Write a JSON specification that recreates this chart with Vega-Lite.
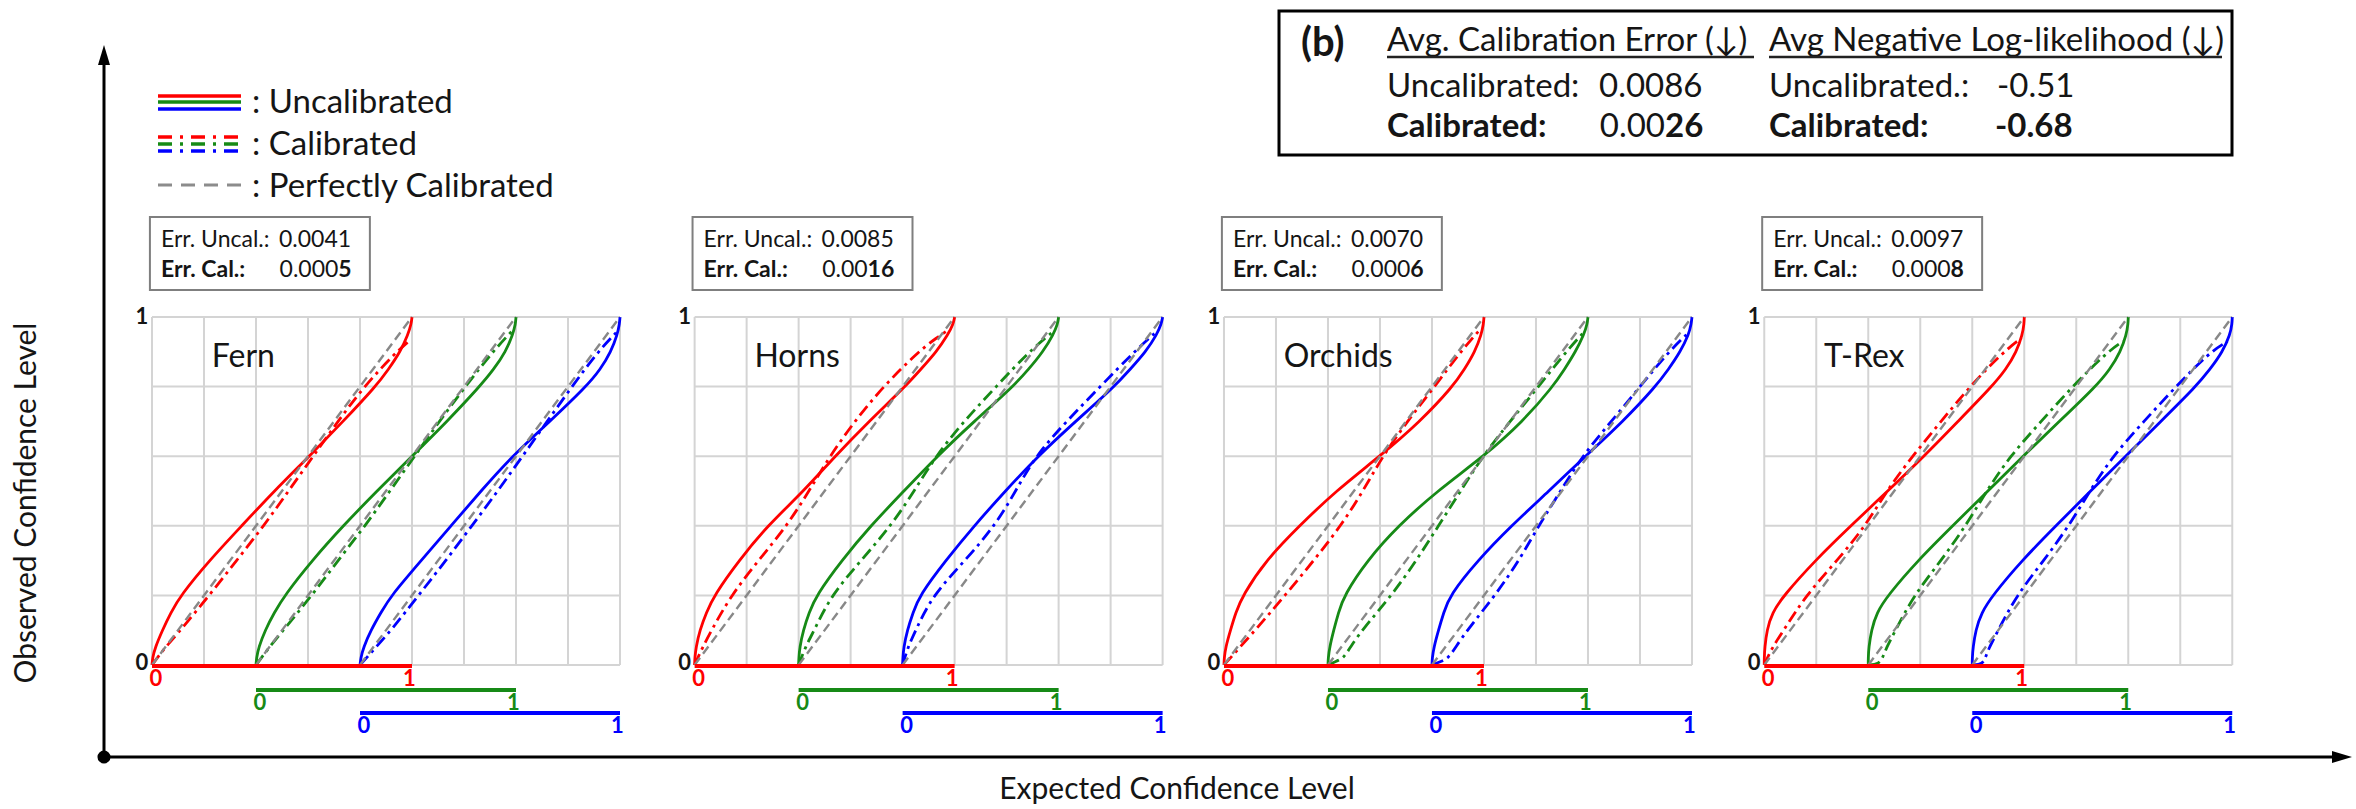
{
"$schema":"https://vega.github.io/schema/vega-lite/v6.json",
"width":2356,"height":809,"padding":0,
"autosize":{"type":"fit","contains":"padding"},
"background":"white",
"config":{"view":{"stroke":null},"text":{"font":"Lato, DejaVu Sans","color":"#151515"}},
"datasets":{
"curves":[
{"p":"Fern","c":"red","k":"U","o":[0,0.02,0.05,0.1,0.15,0.2,0.3,0.4,0.5,0.6,0.7,0.8,0.85,0.9,0.95,0.98,1],"e":[0,0.002,0.012,0.04,0.072,0.11,0.22,0.345,0.47,0.605,0.735,0.86,0.91,0.955,0.985,0.997,1]},
{"p":"Fern","c":"green","k":"U","o":[0,0.02,0.05,0.1,0.15,0.2,0.3,0.4,0.5,0.6,0.7,0.8,0.85,0.9,0.95,0.98,1],"e":[0,0.002,0.01,0.035,0.07,0.11,0.215,0.335,0.465,0.6,0.735,0.86,0.915,0.96,0.988,0.998,1]},
{"p":"Fern","c":"blue","k":"U","o":[0,0.02,0.05,0.1,0.15,0.2,0.3,0.4,0.5,0.6,0.7,0.8,0.85,0.9,0.95,0.98,1],"e":[0,0.003,0.013,0.042,0.08,0.12,0.235,0.35,0.465,0.585,0.73,0.87,0.925,0.965,0.99,0.998,1]},
{"p":"Horns","c":"red","k":"U","o":[0,0.02,0.05,0.1,0.15,0.2,0.3,0.4,0.5,0.6,0.7,0.8,0.85,0.9,0.95,0.98,1],"e":[0,0.001,0.005,0.02,0.045,0.075,0.17,0.28,0.42,0.54,0.67,0.81,0.87,0.93,0.975,0.995,1]},
{"p":"Horns","c":"green","k":"U","o":[0,0.02,0.05,0.1,0.15,0.2,0.3,0.4,0.5,0.6,0.7,0.8,0.85,0.9,0.95,0.98,1],"e":[0,0.001,0.004,0.018,0.04,0.068,0.165,0.277,0.405,0.533,0.675,0.825,0.885,0.94,0.98,0.996,1]},
{"p":"Horns","c":"blue","k":"U","o":[0,0.02,0.05,0.1,0.15,0.2,0.3,0.4,0.5,0.6,0.7,0.8,0.85,0.9,0.95,0.98,1],"e":[0,0.001,0.004,0.018,0.04,0.065,0.165,0.275,0.395,0.52,0.665,0.815,0.875,0.935,0.978,0.995,1]},
{"p":"Orchids","c":"red","k":"U","o":[0,0.02,0.05,0.1,0.15,0.2,0.3,0.4,0.5,0.6,0.7,0.8,0.85,0.9,0.95,0.98,1],"e":[0,0.001,0.006,0.025,0.045,0.072,0.16,0.29,0.43,0.6,0.755,0.88,0.925,0.965,0.99,0.998,1]},
{"p":"Orchids","c":"green","k":"U","o":[0,0.02,0.05,0.1,0.15,0.2,0.3,0.4,0.5,0.6,0.7,0.8,0.85,0.9,0.95,0.98,1],"e":[0,0.001,0.006,0.022,0.04,0.062,0.15,0.27,0.42,0.6,0.75,0.865,0.91,0.952,0.985,0.997,1]},
{"p":"Orchids","c":"blue","k":"U","o":[0,0.02,0.05,0.1,0.15,0.2,0.3,0.4,0.5,0.6,0.7,0.8,0.85,0.9,0.95,0.98,1],"e":[0,0.001,0.007,0.025,0.045,0.068,0.175,0.305,0.45,0.59,0.735,0.86,0.91,0.955,0.988,0.997,1]},
{"p":"T-Rex","c":"red","k":"U","o":[0,0.02,0.05,0.1,0.15,0.2,0.3,0.4,0.5,0.6,0.7,0.8,0.85,0.9,0.95,0.98,1],"e":[0,0,0.002,0.01,0.03,0.075,0.195,0.333,0.475,0.615,0.745,0.875,0.93,0.97,0.993,0.999,1]},
{"p":"T-Rex","c":"green","k":"U","o":[0,0.02,0.05,0.1,0.15,0.2,0.3,0.4,0.5,0.6,0.7,0.8,0.85,0.9,0.95,0.98,1],"e":[0,0,0.002,0.012,0.032,0.075,0.19,0.325,0.46,0.595,0.735,0.875,0.93,0.97,0.993,0.999,1]},
{"p":"T-Rex","c":"blue","k":"U","o":[0,0.02,0.05,0.1,0.15,0.2,0.3,0.4,0.5,0.6,0.7,0.8,0.85,0.9,0.95,0.98,1],"e":[0,0,0.003,0.013,0.035,0.078,0.19,0.322,0.455,0.59,0.725,0.86,0.915,0.963,0.992,0.999,1]},
{"p":"Fern","c":"red","k":"C","o":[0,0.05,0.1,0.2,0.3,0.4,0.5,0.6,0.7,0.8,0.9,0.935],"e":[0,0.05,0.11,0.22,0.325,0.43,0.525,0.62,0.715,0.815,0.94,0.995]},
{"p":"Fern","c":"green","k":"C","o":[0,0.05,0.1,0.2,0.3,0.4,0.5,0.6,0.7,0.8,0.9,0.96],"e":[0,0.05,0.105,0.215,0.315,0.42,0.515,0.61,0.705,0.805,0.91,0.985]},
{"p":"Fern","c":"blue","k":"C","o":[0,0.05,0.1,0.2,0.3,0.4,0.5,0.6,0.7,0.8,0.9,0.955],"e":[0,0.06,0.12,0.225,0.33,0.43,0.53,0.625,0.72,0.815,0.915,0.985]},
{"p":"Horns","c":"red","k":"C","o":[0,0.05,0.1,0.2,0.3,0.4,0.5,0.6,0.7,0.8,0.9,0.94,0.965],"e":[0,0.03,0.065,0.14,0.245,0.355,0.44,0.52,0.615,0.725,0.86,0.93,0.98]},
{"p":"Horns","c":"green","k":"C","o":[0,0.05,0.1,0.2,0.3,0.4,0.5,0.6,0.7,0.8,0.9,0.96],"e":[0,0.025,0.06,0.125,0.24,0.355,0.445,0.527,0.635,0.76,0.885,0.982]},
{"p":"Horns","c":"blue","k":"C","o":[0,0.05,0.1,0.2,0.3,0.4,0.5,0.6,0.7,0.8,0.9,0.96],"e":[0,0.02,0.05,0.115,0.24,0.355,0.435,0.51,0.63,0.76,0.89,0.98]},
{"p":"Orchids","c":"red","k":"C","o":[0,0.05,0.1,0.2,0.3,0.4,0.5,0.6,0.7,0.8,0.9,0.96],"e":[0,0.06,0.12,0.235,0.345,0.45,0.535,0.61,0.705,0.81,0.91,0.98]},
{"p":"Orchids","c":"green","k":"C","o":[0,0.01,0.02,0.05,0.1,0.2,0.3,0.4,0.5,0.6,0.7,0.8,0.9,0.957],"e":[0,0.03,0.06,0.085,0.13,0.245,0.34,0.425,0.51,0.595,0.7,0.81,0.915,0.985]},
{"p":"Orchids","c":"blue","k":"C","o":[0,0.01,0.02,0.05,0.1,0.2,0.3,0.4,0.5,0.6,0.7,0.8,0.9,0.955],"e":[0,0.035,0.063,0.09,0.135,0.243,0.335,0.41,0.495,0.577,0.69,0.8,0.91,0.987]},
{"p":"T-Rex","c":"red","k":"C","o":[0,0.05,0.1,0.2,0.3,0.4,0.5,0.6,0.7,0.8,0.9,0.94],"e":[0,0.03,0.075,0.16,0.28,0.39,0.47,0.57,0.68,0.79,0.92,0.99]},
{"p":"T-Rex","c":"green","k":"C","o":[0,0.003,0.02,0.05,0.1,0.2,0.3,0.4,0.5,0.6,0.7,0.8,0.9,0.93],"e":[0,0.04,0.055,0.07,0.105,0.175,0.28,0.375,0.455,0.545,0.665,0.785,0.92,0.98]},
{"p":"T-Rex","c":"blue","k":"C","o":[0,0.003,0.02,0.05,0.1,0.2,0.3,0.4,0.5,0.6,0.7,0.8,0.9,0.93],"e":[0,0.04,0.05,0.065,0.1,0.17,0.275,0.372,0.452,0.54,0.66,0.783,0.915,0.982]},
{"p":"Fern","c":"red","k":"P","o":[0,1],"e":[0,1]},
{"p":"Fern","c":"green","k":"P","o":[0,1],"e":[0,1]},
{"p":"Fern","c":"blue","k":"P","o":[0,1],"e":[0,1]},
{"p":"Horns","c":"red","k":"P","o":[0,1],"e":[0,1]},
{"p":"Horns","c":"green","k":"P","o":[0,1],"e":[0,1]},
{"p":"Horns","c":"blue","k":"P","o":[0,1],"e":[0,1]},
{"p":"Orchids","c":"red","k":"P","o":[0,1],"e":[0,1]},
{"p":"Orchids","c":"green","k":"P","o":[0,1],"e":[0,1]},
{"p":"Orchids","c":"blue","k":"P","o":[0,1],"e":[0,1]},
{"p":"T-Rex","c":"red","k":"P","o":[0,1],"e":[0,1]},
{"p":"T-Rex","c":"green","k":"P","o":[0,1],"e":[0,1]},
{"p":"T-Rex","c":"blue","k":"P","o":[0,1],"e":[0,1]}
],
"gridV":[
{"p":"Fern","k":[0,0.2,0.4,0.6,0.8,1,1.2,1.4,1.6,1.8]},
{"p":"Horns","k":[0,0.2,0.4,0.6,0.8,1,1.2,1.4,1.6,1.8]},
{"p":"Orchids","k":[0,0.2,0.4,0.6,0.8,1,1.2,1.4,1.6,1.8]},
{"p":"T-Rex","k":[0,0.2,0.4,0.6,0.8,1,1.2,1.4,1.6,1.8]}
],
"gridH":[
{"p":"Fern","j":[0,0.2,0.4,0.6,0.8,1]},
{"p":"Horns","j":[0,0.2,0.4,0.6,0.8,1]},
{"p":"Orchids","j":[0,0.2,0.4,0.6,0.8,1]},
{"p":"T-Rex","j":[0,0.2,0.4,0.6,0.8,1]}
],
"scales":[
{"p":"Fern","c":"red","v":[0,1]},{"p":"Fern","c":"green","v":[0,1]},{"p":"Fern","c":"blue","v":[0,1]},
{"p":"Horns","c":"red","v":[0,1]},{"p":"Horns","c":"green","v":[0,1]},{"p":"Horns","c":"blue","v":[0,1]},
{"p":"Orchids","c":"red","v":[0,1]},{"p":"Orchids","c":"green","v":[0,1]},{"p":"Orchids","c":"blue","v":[0,1]},
{"p":"T-Rex","c":"red","v":[0,1]},{"p":"T-Rex","c":"green","v":[0,1]},{"p":"T-Rex","c":"blue","v":[0,1]}
],
"panels":[
{"p":"Fern","unc":"0.0041","calA":"0.000","calB":"5"},
{"p":"Horns","unc":"0.0085","calA":"0.00","calB":"16"},
{"p":"Orchids","unc":"0.0070","calA":"0.000","calB":"6"},
{"p":"T-Rex","unc":"0.0097","calA":"0.000","calB":"8"}
]
},
"layer":[
{"data":{"name":"gridV"},"transform":[{"flatten":["k"]},{"calculate":"(datum.p=='Horns'?2.087:datum.p=='Orchids'?4.123:datum.p=='T-Rex'?6.201:0)+datum.k","as":"X"}],
 "mark":{"type":"rule","color":"#d4d4d4","strokeWidth":2},
 "encoding":{"x":{"field":"X","type":"quantitative","scale":{"domain":[-0.58462,8.47692],"nice":false,"zero":false},"axis":null},
  "y":{"datum":0,"type":"quantitative","scale":{"domain":[-0.41379,1.91092],"nice":false,"zero":false},"axis":null},"y2":{"datum":1}}},
{"data":{"name":"gridH"},"transform":[{"flatten":["j"]},{"calculate":"(datum.p=='Horns'?2.087:datum.p=='Orchids'?4.123:datum.p=='T-Rex'?6.201:0)","as":"X"},{"calculate":"datum.X+1.8","as":"X2"}],
 "mark":{"type":"rule","color":"#d4d4d4","strokeWidth":2},
 "encoding":{"x":{"field":"X","type":"quantitative","scale":{"domain":[-0.58462,8.47692],"nice":false,"zero":false},"axis":null},"x2":{"field":"X2"},
  "y":{"field":"j","type":"quantitative","scale":{"domain":[-0.41379,1.91092],"nice":false,"zero":false},"axis":null}}},
{"data":{"name":"curves"},"transform":[{"filter":"datum.k=='U'"},{"flatten":["o","e"]},{"calculate":"(datum.p=='Horns'?2.087:datum.p=='Orchids'?4.123:datum.p=='T-Rex'?6.201:0)+(datum.c=='green'?0.4:datum.c=='blue'?0.8:0)+datum.e","as":"X"}],
 "mark":{"type":"line","strokeWidth":2.8,"interpolate":"basis"},
 "encoding":{"x":{"field":"X","type":"quantitative","scale":{"domain":[-0.58462,8.47692],"nice":false,"zero":false},"axis":null},
  "y":{"field":"o","type":"quantitative","scale":{"domain":[-0.41379,1.91092],"nice":false,"zero":false},"axis":null},
  "color":{"field":"c","type":"nominal","scale":{"domain":["red","green","blue"],"range":["#ff0000","#168a16","#0000ff"]},"legend":null},
  "detail":{"field":"p"},"order":{"field":"o","type":"quantitative"}}},
{"data":{"name":"curves"},"transform":[{"filter":"datum.k=='C'"},{"flatten":["o","e"]},{"calculate":"(datum.p=='Horns'?2.087:datum.p=='Orchids'?4.123:datum.p=='T-Rex'?6.201:0)+(datum.c=='green'?0.4:datum.c=='blue'?0.8:0)+datum.e","as":"X"}],
 "mark":{"type":"line","strokeWidth":2.8,"interpolate":"basis","strokeDash":[12,5,3,5]},
 "encoding":{"x":{"field":"X","type":"quantitative","scale":{"domain":[-0.58462,8.47692],"nice":false,"zero":false},"axis":null},
  "y":{"field":"o","type":"quantitative","scale":{"domain":[-0.41379,1.91092],"nice":false,"zero":false},"axis":null},
  "color":{"field":"c","type":"nominal","scale":{"domain":["red","green","blue"],"range":["#ff0000","#168a16","#0000ff"]},"legend":null},
  "detail":{"field":"p"},"order":{"field":"o","type":"quantitative"}}},
{"data":{"name":"curves"},"transform":[{"filter":"datum.k=='P'"},{"flatten":["o","e"]},{"calculate":"(datum.p=='Horns'?2.087:datum.p=='Orchids'?4.123:datum.p=='T-Rex'?6.201:0)+(datum.c=='green'?0.4:datum.c=='blue'?0.8:0)+datum.e","as":"X"}],
 "mark":{"type":"line","strokeWidth":2.4,"color":"#888888","strokeDash":[9,5]},
 "encoding":{"x":{"field":"X","type":"quantitative","scale":{"domain":[-0.58462,8.47692],"nice":false,"zero":false},"axis":null},
  "y":{"field":"o","type":"quantitative","scale":{"domain":[-0.41379,1.91092],"nice":false,"zero":false},"axis":null},
  "detail":[{"field":"p"},{"field":"c"}],"order":{"field":"o","type":"quantitative"}}},
{"data":{"name":"scales"},"transform":[{"calculate":"(datum.p=='Horns'?2.087:datum.p=='Orchids'?4.123:datum.p=='T-Rex'?6.201:0)+(datum.c=='green'?0.4:datum.c=='blue'?0.8:0)","as":"X"},{"calculate":"datum.X+1","as":"X2"},{"calculate":"datum.c=='green'?-0.0718:datum.c=='blue'?-0.1379:-0.003","as":"L"}],
 "mark":{"type":"rule","strokeWidth":4},
 "encoding":{"x":{"field":"X","type":"quantitative","scale":{"domain":[-0.58462,8.47692],"nice":false,"zero":false},"axis":null},"x2":{"field":"X2"},
  "y":{"field":"L","type":"quantitative","scale":{"domain":[-0.41379,1.91092],"nice":false,"zero":false},"axis":null},
  "color":{"field":"c","type":"nominal","scale":{"domain":["red","green","blue"],"range":["#ff0000","#168a16","#0000ff"]},"legend":null}}},
{"data":{"name":"scales"},"transform":[{"flatten":["v"]},{"calculate":"(datum.p=='Horns'?2.087:datum.p=='Orchids'?4.123:datum.p=='T-Rex'?6.201:0)+(datum.c=='green'?0.4:datum.c=='blue'?0.8:0)+datum.v+(datum.v==0?0.015:-0.01)","as":"X"},{"calculate":"(datum.c=='green'?-0.0718:datum.c=='blue'?-0.1379:-0.003)-0.036","as":"L"},{"calculate":"''+datum.v","as":"t"}],
 "mark":{"type":"text","fontSize":22,"fontWeight":"bold","baseline":"middle","align":"center"},
 "encoding":{"x":{"field":"X","type":"quantitative","scale":{"domain":[-0.58462,8.47692],"nice":false,"zero":false},"axis":null},
  "y":{"field":"L","type":"quantitative","scale":{"domain":[-0.41379,1.91092],"nice":false,"zero":false},"axis":null},
  "text":{"field":"t"},
  "color":{"field":"c","type":"nominal","scale":{"domain":["red","green","blue"],"range":["#ff0000","#168a16","#0000ff"]},"legend":null}}},
{"data":{"name":"panels"},"transform":[{"calculate":"(datum.p=='Horns'?2.087:datum.p=='Orchids'?4.123:datum.p=='T-Rex'?6.201:0)","as":"off"},{"calculate":"datum.off-0.014","as":"X"}],
 "mark":{"type":"text","fontSize":22,"fontWeight":"bold","baseline":"middle","align":"right","text":"1"},
 "encoding":{"x":{"field":"X","type":"quantitative","scale":{"domain":[-0.58462,8.47692],"nice":false,"zero":false},"axis":null},
  "y":{"datum":1,"type":"quantitative","scale":{"domain":[-0.41379,1.91092],"nice":false,"zero":false},"axis":null}}},
{"data":{"name":"panels"},"transform":[{"calculate":"(datum.p=='Horns'?2.087:datum.p=='Orchids'?4.123:datum.p=='T-Rex'?6.201:0)","as":"off"},{"calculate":"datum.off-0.014","as":"X"}],
 "mark":{"type":"text","fontSize":22,"fontWeight":"bold","baseline":"middle","align":"right","text":"0"},
 "encoding":{"x":{"field":"X","type":"quantitative","scale":{"domain":[-0.58462,8.47692],"nice":false,"zero":false},"axis":null},
  "y":{"datum":0.005,"type":"quantitative","scale":{"domain":[-0.41379,1.91092],"nice":false,"zero":false},"axis":null}}},
{"data":{"name":"panels"},"transform":[{"calculate":"(datum.p=='Horns'?2.087:datum.p=='Orchids'?4.123:datum.p=='T-Rex'?6.201:0)","as":"off"},{"calculate":"datum.off+0.23","as":"X"}],
 "mark":{"type":"text","fontSize":32,"baseline":"alphabetic","align":"left"},
 "encoding":{"x":{"field":"X","type":"quantitative","scale":{"domain":[-0.58462,8.47692],"nice":false,"zero":false},"axis":null},
  "y":{"datum":0.85632,"type":"quantitative","scale":{"domain":[-0.41379,1.91092],"nice":false,"zero":false},"axis":null},
  "text":{"field":"p"}}},
{"data":{"name":"panels"},"transform":[{"calculate":"(datum.p=='Horns'?2.087:datum.p=='Orchids'?4.123:datum.p=='T-Rex'?6.201:0)","as":"off"},{"calculate":"datum.off-0.008","as":"X"},{"calculate":"datum.off+0.838","as":"X2"}],
 "mark":{"type":"rect","fillOpacity":0,"stroke":"#7f7f7f","strokeWidth":2},
 "encoding":{"x":{"field":"X","type":"quantitative","scale":{"domain":[-0.58462,8.47692],"nice":false,"zero":false},"axis":null},"x2":{"field":"X2"},
  "y":{"datum":1.28736,"type":"quantitative","scale":{"domain":[-0.41379,1.91092],"nice":false,"zero":false},"axis":null},"y2":{"datum":1.07759}}},
{"data":{"name":"panels"},"transform":[{"calculate":"(datum.p=='Horns'?2.087:datum.p=='Orchids'?4.123:datum.p=='T-Rex'?6.201:0)","as":"off"},{"calculate":"datum.off+0.0346","as":"X"}],
 "mark":{"type":"text","fontSize":23,"baseline":"alphabetic","align":"left","text":"Err. Uncal.:"},
 "encoding":{"x":{"field":"X","type":"quantitative","scale":{"domain":[-0.58462,8.47692],"nice":false,"zero":false},"axis":null},
  "y":{"datum":1.20115,"type":"quantitative","scale":{"domain":[-0.41379,1.91092],"nice":false,"zero":false},"axis":null}}},
{"data":{"name":"panels"},"transform":[{"calculate":"(datum.p=='Horns'?2.087:datum.p=='Orchids'?4.123:datum.p=='T-Rex'?6.201:0)","as":"off"},{"calculate":"datum.off+0.48846","as":"X"}],
 "mark":{"type":"text","fontSize":23,"baseline":"alphabetic","align":"left"},
 "encoding":{"x":{"field":"X","type":"quantitative","scale":{"domain":[-0.58462,8.47692],"nice":false,"zero":false},"axis":null},
  "y":{"datum":1.20115,"type":"quantitative","scale":{"domain":[-0.41379,1.91092],"nice":false,"zero":false},"axis":null},
  "text":{"field":"unc"}}},
{"data":{"name":"panels"},"transform":[{"calculate":"(datum.p=='Horns'?2.087:datum.p=='Orchids'?4.123:datum.p=='T-Rex'?6.201:0)","as":"off"},{"calculate":"datum.off+0.0346","as":"X"}],
 "mark":{"type":"text","fontSize":23,"fontWeight":"bold","baseline":"alphabetic","align":"left","text":"Err. Cal.:"},
 "encoding":{"x":{"field":"X","type":"quantitative","scale":{"domain":[-0.58462,8.47692],"nice":false,"zero":false},"axis":null},
  "y":{"datum":1.11494,"type":"quantitative","scale":{"domain":[-0.41379,1.91092],"nice":false,"zero":false},"axis":null}}},
{"data":{"name":"panels"},"transform":[{"calculate":"(datum.p=='Horns'?2.087:datum.p=='Orchids'?4.123:datum.p=='T-Rex'?6.201:0)","as":"off"},{"calculate":"datum.off+(127+(length(datum.calA)-1)*13.34+5.98)/260","as":"X"}],
 "mark":{"type":"text","fontSize":23,"baseline":"alphabetic","align":"right"},
 "encoding":{"x":{"field":"X","type":"quantitative","scale":{"domain":[-0.58462,8.47692],"nice":false,"zero":false},"axis":null},
  "y":{"datum":1.11494,"type":"quantitative","scale":{"domain":[-0.41379,1.91092],"nice":false,"zero":false},"axis":null},
  "text":{"field":"calA"}}},
{"data":{"name":"panels"},"transform":[{"calculate":"(datum.p=='Horns'?2.087:datum.p=='Orchids'?4.123:datum.p=='T-Rex'?6.201:0)","as":"off"},{"calculate":"datum.off+(127+(length(datum.calA)-1)*13.34+5.98)/260","as":"X"}],
 "mark":{"type":"text","fontSize":23,"fontWeight":"bold","baseline":"alphabetic","align":"left"},
 "encoding":{"x":{"field":"X","type":"quantitative","scale":{"domain":[-0.58462,8.47692],"nice":false,"zero":false},"axis":null},
  "y":{"datum":1.11494,"type":"quantitative","scale":{"domain":[-0.41379,1.91092],"nice":false,"zero":false},"axis":null},
  "text":{"field":"calB"}}},
{"data":{"values":[{}]},"mark":{"type":"rule","strokeWidth":3,"color":"#000000"},
 "encoding":{"x":{"datum":-0.18462,"type":"quantitative","scale":{"domain":[-0.58462,8.47692],"nice":false,"zero":false},"axis":null},
  "y":{"datum":-0.26437,"type":"quantitative","scale":{"domain":[-0.41379,1.91092],"nice":false,"zero":false},"axis":null},"y2":{"datum":1.72414}}},
{"data":{"values":[{}]},"mark":{"type":"rule","strokeWidth":3,"color":"#000000"},
 "encoding":{"x":{"datum":-0.18462,"type":"quantitative","scale":{"domain":[-0.58462,8.47692],"nice":false,"zero":false},"axis":null},"x2":{"datum":8.39231},
  "y":{"datum":-0.26437,"type":"quantitative","scale":{"domain":[-0.41379,1.91092],"nice":false,"zero":false},"axis":null}}},
{"data":{"values":[{}]},"mark":{"type":"point","filled":true,"color":"#000000","opacity":1,"size":400,"strokeWidth":0,"shape":"M0,-1L0.6,1L-0.6,1Z"},
 "encoding":{"x":{"datum":-0.18462,"type":"quantitative","scale":{"domain":[-0.58462,8.47692],"nice":false,"zero":false},"axis":null},
  "y":{"datum":1.75287,"type":"quantitative","scale":{"domain":[-0.41379,1.91092],"nice":false,"zero":false},"axis":null}}},
{"data":{"values":[{}]},"mark":{"type":"point","filled":true,"color":"#000000","opacity":1,"size":400,"strokeWidth":0,"shape":"M1,0L-1,0.6L-1,-0.6Z"},
 "encoding":{"x":{"datum":8.42308,"type":"quantitative","scale":{"domain":[-0.58462,8.47692],"nice":false,"zero":false},"axis":null},
  "y":{"datum":-0.26437,"type":"quantitative","scale":{"domain":[-0.41379,1.91092],"nice":false,"zero":false},"axis":null}}},
{"data":{"values":[{}]},"mark":{"type":"point","filled":true,"color":"#000000","opacity":1,"size":170,"shape":"circle"},
 "encoding":{"x":{"datum":-0.18462,"type":"quantitative","scale":{"domain":[-0.58462,8.47692],"nice":false,"zero":false},"axis":null},
  "y":{"datum":-0.26437,"type":"quantitative","scale":{"domain":[-0.41379,1.91092],"nice":false,"zero":false},"axis":null}}},
{"data":{"values":[{}]},"mark":{"type":"text","fontSize":30,"angle":270,"align":"center","baseline":"middle","text":"Observed Confidence Level"},
 "encoding":{"x":{"datum":-0.48077,"type":"quantitative","scale":{"domain":[-0.58462,8.47692],"nice":false,"zero":false},"axis":null},
  "y":{"datum":0.46552,"type":"quantitative","scale":{"domain":[-0.41379,1.91092],"nice":false,"zero":false},"axis":null}}},
{"data":{"values":[{}]},"mark":{"type":"text","fontSize":30,"align":"center","baseline":"middle","text":"Expected Confidence Level"},
 "encoding":{"x":{"datum":3.94231,"type":"quantitative","scale":{"domain":[-0.58462,8.47692],"nice":false,"zero":false},"axis":null},
  "y":{"datum":-0.3592,"type":"quantitative","scale":{"domain":[-0.41379,1.91092],"nice":false,"zero":false},"axis":null}}},
{"data":{"values":[{"c":"red","lv":1.63506},{"c":"green","lv":1.61782},{"c":"blue","lv":1.5977}]},"mark":{"type":"rule","strokeWidth":3.5},
 "encoding":{"x":{"datum":0.02308,"type":"quantitative","scale":{"domain":[-0.58462,8.47692],"nice":false,"zero":false},"axis":null},"x2":{"datum":0.34231},
  "y":{"field":"lv","type":"quantitative","scale":{"domain":[-0.41379,1.91092],"nice":false,"zero":false},"axis":null},
  "color":{"field":"c","type":"nominal","scale":{"domain":["red","green","blue"],"range":["#ff0000","#168a16","#0000ff"]},"legend":null}}},
{"data":{"values":[{"c":"red","lv":1.51724},{"c":"green","lv":1.49713},{"c":"blue","lv":1.47701}]},"mark":{"type":"rule","strokeWidth":3.5,"strokeDash":[14,8,3,8]},
 "encoding":{"x":{"datum":0.02308,"type":"quantitative","scale":{"domain":[-0.58462,8.47692],"nice":false,"zero":false},"axis":null},"x2":{"datum":0.34231},
  "y":{"field":"lv","type":"quantitative","scale":{"domain":[-0.41379,1.91092],"nice":false,"zero":false},"axis":null},
  "color":{"field":"c","type":"nominal","scale":{"domain":["red","green","blue"],"range":["#ff0000","#168a16","#0000ff"]},"legend":null}}},
{"data":{"values":[{}]},"mark":{"type":"rule","strokeWidth":3,"color":"#8c8c8c","strokeDash":[14,9]},
 "encoding":{"x":{"datum":0.02308,"type":"quantitative","scale":{"domain":[-0.58462,8.47692],"nice":false,"zero":false},"axis":null},"x2":{"datum":0.34231},
  "y":{"datum":1.37931,"type":"quantitative","scale":{"domain":[-0.41379,1.91092],"nice":false,"zero":false},"axis":null}}},
{"data":{"values":[{}]},"mark":{"type":"text","fontSize":33,"align":"left","baseline":"alphabetic","text":": Uncalibrated"},
 "encoding":{"x":{"datum":0.38462,"type":"quantitative","scale":{"domain":[-0.58462,8.47692],"nice":false,"zero":false},"axis":null},
  "y":{"datum":1.58621,"type":"quantitative","scale":{"domain":[-0.41379,1.91092],"nice":false,"zero":false},"axis":null}}},
{"data":{"values":[{}]},"mark":{"type":"text","fontSize":33,"align":"left","baseline":"alphabetic","text":": Calibrated"},
 "encoding":{"x":{"datum":0.38462,"type":"quantitative","scale":{"domain":[-0.58462,8.47692],"nice":false,"zero":false},"axis":null},
  "y":{"datum":1.46552,"type":"quantitative","scale":{"domain":[-0.41379,1.91092],"nice":false,"zero":false},"axis":null}}},
{"data":{"values":[{}]},"mark":{"type":"text","fontSize":33,"align":"left","baseline":"alphabetic","text":": Perfectly Calibrated"},
 "encoding":{"x":{"datum":0.38462,"type":"quantitative","scale":{"domain":[-0.58462,8.47692],"nice":false,"zero":false},"axis":null},
  "y":{"datum":1.34483,"type":"quantitative","scale":{"domain":[-0.41379,1.91092],"nice":false,"zero":false},"axis":null}}},
{"data":{"values":[{}]},"mark":{"type":"rect","fillOpacity":0,"stroke":"#000000","strokeWidth":3},
 "encoding":{"x":{"datum":4.33462,"type":"quantitative","scale":{"domain":[-0.58462,8.47692],"nice":false,"zero":false},"axis":null},"x2":{"datum":8.0},
  "y":{"datum":1.87931,"type":"quantitative","scale":{"domain":[-0.41379,1.91092],"nice":false,"zero":false},"axis":null},"y2":{"datum":1.46552}}},
{"data":{"values":[{}]},"mark":{"type":"text","fontSize":40,"fontWeight":"bold","align":"left","baseline":"alphabetic","text":"(b)"},
 "encoding":{"x":{"datum":4.41923,"type":"quantitative","scale":{"domain":[-0.58462,8.47692],"nice":false,"zero":false},"axis":null},
  "y":{"datum":1.75,"type":"quantitative","scale":{"domain":[-0.41379,1.91092],"nice":false,"zero":false},"axis":null}}},
{"data":{"values":[{}]},"mark":{"type":"text","fontSize":33,"align":"left","baseline":"alphabetic","text":"Avg. Calibration Error (↓)"},
 "encoding":{"x":{"datum":4.75,"type":"quantitative","scale":{"domain":[-0.58462,8.47692],"nice":false,"zero":false},"axis":null},
  "y":{"datum":1.76437,"type":"quantitative","scale":{"domain":[-0.41379,1.91092],"nice":false,"zero":false},"axis":null}}},
{"data":{"values":[{}]},"mark":{"type":"rule","strokeWidth":2.5,"color":"#222222"},
 "encoding":{"x":{"datum":4.75,"type":"quantitative","scale":{"domain":[-0.58462,8.47692],"nice":false,"zero":false},"axis":null},"x2":{"datum":6.16154},
  "y":{"datum":1.74713,"type":"quantitative","scale":{"domain":[-0.41379,1.91092],"nice":false,"zero":false},"axis":null}}},
{"data":{"values":[{}]},"mark":{"type":"text","fontSize":33,"align":"left","baseline":"alphabetic","text":"Avg Negative Log-likelihood (↓)"},
 "encoding":{"x":{"datum":6.21923,"type":"quantitative","scale":{"domain":[-0.58462,8.47692],"nice":false,"zero":false},"axis":null},
  "y":{"datum":1.76437,"type":"quantitative","scale":{"domain":[-0.41379,1.91092],"nice":false,"zero":false},"axis":null}}},
{"data":{"values":[{}]},"mark":{"type":"rule","strokeWidth":2.5,"color":"#222222"},
 "encoding":{"x":{"datum":6.21923,"type":"quantitative","scale":{"domain":[-0.58462,8.47692],"nice":false,"zero":false},"axis":null},"x2":{"datum":7.96154},
  "y":{"datum":1.74713,"type":"quantitative","scale":{"domain":[-0.41379,1.91092],"nice":false,"zero":false},"axis":null}}},
{"data":{"values":[{}]},"mark":{"type":"text","fontSize":33,"align":"left","baseline":"alphabetic","text":"Uncalibrated:"},
 "encoding":{"x":{"datum":4.75,"type":"quantitative","scale":{"domain":[-0.58462,8.47692],"nice":false,"zero":false},"axis":null},
  "y":{"datum":1.63218,"type":"quantitative","scale":{"domain":[-0.41379,1.91092],"nice":false,"zero":false},"axis":null}}},
{"data":{"values":[{}]},"mark":{"type":"text","fontSize":33,"align":"left","baseline":"alphabetic","text":"0.0086"},
 "encoding":{"x":{"datum":5.56538,"type":"quantitative","scale":{"domain":[-0.58462,8.47692],"nice":false,"zero":false},"axis":null},
  "y":{"datum":1.63218,"type":"quantitative","scale":{"domain":[-0.41379,1.91092],"nice":false,"zero":false},"axis":null}}},
{"data":{"values":[{}]},"mark":{"type":"text","fontSize":33,"fontWeight":"bold","align":"left","baseline":"alphabetic","text":"Calibrated:"},
 "encoding":{"x":{"datum":4.75,"type":"quantitative","scale":{"domain":[-0.58462,8.47692],"nice":false,"zero":false},"axis":null},
  "y":{"datum":1.51724,"type":"quantitative","scale":{"domain":[-0.41379,1.91092],"nice":false,"zero":false},"axis":null}}},
{"data":{"values":[{}]},"mark":{"type":"text","fontSize":33,"align":"right","baseline":"alphabetic","text":"0.00"},
 "encoding":{"x":{"datum":5.81923,"type":"quantitative","scale":{"domain":[-0.58462,8.47692],"nice":false,"zero":false},"axis":null},
  "y":{"datum":1.51724,"type":"quantitative","scale":{"domain":[-0.41379,1.91092],"nice":false,"zero":false},"axis":null}}},
{"data":{"values":[{}]},"mark":{"type":"text","fontSize":33,"fontWeight":"bold","align":"left","baseline":"alphabetic","text":"26"},
 "encoding":{"x":{"datum":5.81923,"type":"quantitative","scale":{"domain":[-0.58462,8.47692],"nice":false,"zero":false},"axis":null},
  "y":{"datum":1.51724,"type":"quantitative","scale":{"domain":[-0.41379,1.91092],"nice":false,"zero":false},"axis":null}}},
{"data":{"values":[{}]},"mark":{"type":"text","fontSize":33,"align":"left","baseline":"alphabetic","text":"Uncalibrated.:"},
 "encoding":{"x":{"datum":6.21923,"type":"quantitative","scale":{"domain":[-0.58462,8.47692],"nice":false,"zero":false},"axis":null},
  "y":{"datum":1.63218,"type":"quantitative","scale":{"domain":[-0.41379,1.91092],"nice":false,"zero":false},"axis":null}}},
{"data":{"values":[{}]},"mark":{"type":"text","fontSize":33,"align":"left","baseline":"alphabetic","text":"-0.51"},
 "encoding":{"x":{"datum":7.09615,"type":"quantitative","scale":{"domain":[-0.58462,8.47692],"nice":false,"zero":false},"axis":null},
  "y":{"datum":1.63218,"type":"quantitative","scale":{"domain":[-0.41379,1.91092],"nice":false,"zero":false},"axis":null}}},
{"data":{"values":[{}]},"mark":{"type":"text","fontSize":33,"fontWeight":"bold","align":"left","baseline":"alphabetic","text":"Calibrated:"},
 "encoding":{"x":{"datum":6.21923,"type":"quantitative","scale":{"domain":[-0.58462,8.47692],"nice":false,"zero":false},"axis":null},
  "y":{"datum":1.51724,"type":"quantitative","scale":{"domain":[-0.41379,1.91092],"nice":false,"zero":false},"axis":null}}},
{"data":{"values":[{}]},"mark":{"type":"text","fontSize":33,"fontWeight":"bold","align":"left","baseline":"alphabetic","text":"-0.68"},
 "encoding":{"x":{"datum":7.08846,"type":"quantitative","scale":{"domain":[-0.58462,8.47692],"nice":false,"zero":false},"axis":null},
  "y":{"datum":1.51724,"type":"quantitative","scale":{"domain":[-0.41379,1.91092],"nice":false,"zero":false},"axis":null}}}
]
}
